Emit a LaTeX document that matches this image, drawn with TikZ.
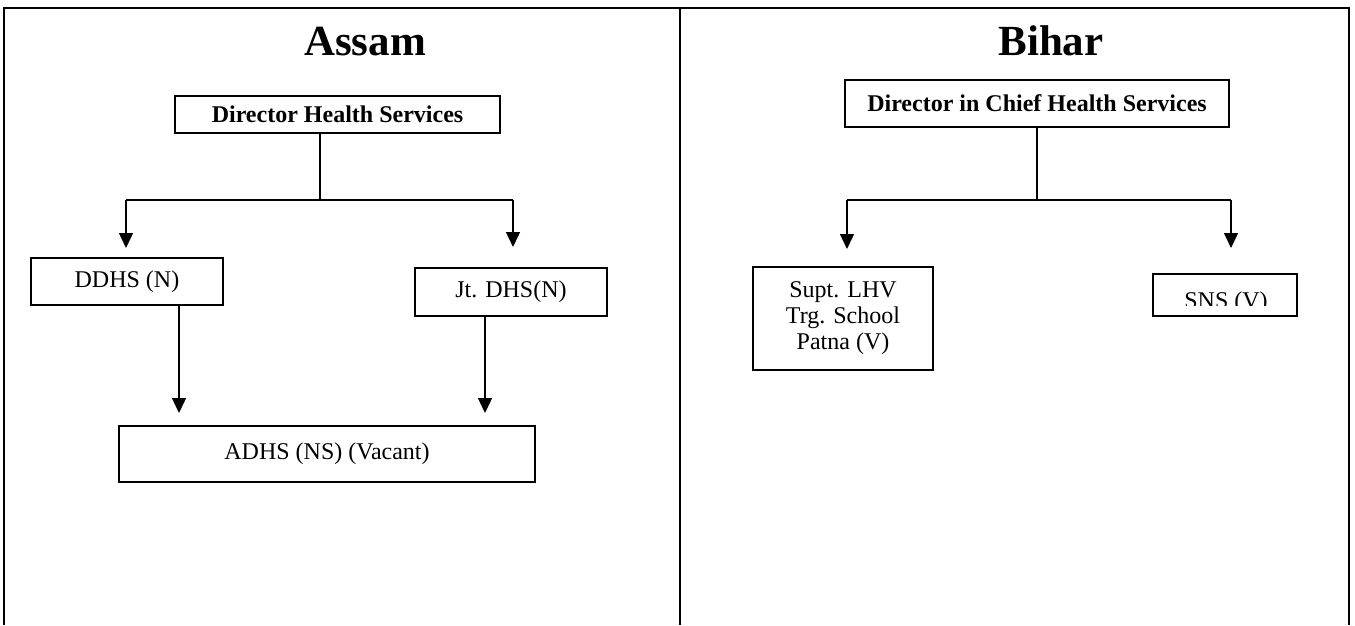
\documentclass[tikz,border=0pt]{standalone}
\usepackage{fontspec}
\setmainfont{Liberation Serif}
\usetikzlibrary{arrows.meta}

\begin{document}
\begin{tikzpicture}[x=1pt,y=-1pt,-,>={Triangle[length=15pt,width=14pt]},line width=1.4pt,
    post node/.style={draw,line width=2pt,inner sep=0pt,outer sep=0pt,font=\fontsize{24}{27.6}\selectfont},
    head node/.style={post node,font=\fontsize{24}{27.6}\selectfont\bfseries},
    state node/.style={anchor=base,font=\fontsize{43}{48}\selectfont\bfseries}]

            \useasboundingbox (0,0) rectangle (1355,625);

            % table frame
            \draw (4,625) -- (4,8) -- (1349,8) -- (1349,625);
            \draw (680,8) -- (680,625);

            \node[state node] (assam) at (365,55) {Assam};
            \node[state node] (bihar) at (1051,55) {Bihar};

            \node[head node, minimum width=325, minimum height=37] (dhs) at (337.5,114.5) {Director Health Services};
            \node[post node, minimum width=192, minimum height=47] (ddhs) at (127,281.5) {DDHS (N)};
            \node[post node, minimum width=192, minimum height=48] (jt) at (511,292) {Jt. DHS(N)};
            \node[post node, minimum width=416, minimum height=56] (adhs) at (327,454) {ADHS (NS) (Vacant)};

            \node[head node, minimum width=384, minimum height=47] (dchs) at (1037,103.5) {Director in Chief Health Services};
            \node[post node, minimum width=180, minimum height=103, align=center,
                  font=\fontsize{24}{26}\selectfont] (supt) at (843,318.5) {Supt. LHV\\Trg. School\\Patna (V)};
            \node[post node, minimum width=144, minimum height=42] (sns) at (1225,295) {};
            \begin{scope}
                \clip (sns.north west) rectangle ([yshift=11pt]sns.south east);
                \node[anchor=base, font=\fontsize{24}{27.6}\selectfont] (snslabel) at (1226,308) {SNS (V)};
            \end{scope}

            \coordinate (astem) at (320,200);
            \coordinate (al) at (126,200);
            \coordinate (ar) at (513,200);
            \coordinate (dl) at (179,0);
            \coordinate (dr) at (485,0);
            \coordinate (bl) at (847,200);
            \coordinate (br) at (1231,200);

            \draw (dhs.south -| astem) to (astem);
            \draw (al) to (ar);
            \draw[->, shorten >=10pt] (al) to (al |- ddhs.north);
            \draw[->, shorten >=21pt] (ar) to (ar |- jt.north);
            \draw[->, shorten >=13pt] (dl |- ddhs.south) to (dl |- adhs.north);
            \draw[->, shorten >=13pt] (dr |- jt.south) to (dr |- adhs.north);

            \draw (dchs.south) to (dchs.south |- bl);
            \draw (bl) to (br);
            \draw[->, shorten >=18pt] (bl) to (bl |- supt.north);
            \draw[->, shorten >=26pt] (br) to (br |- sns.north);

            ;
        \end{tikzpicture}
\end{document}
